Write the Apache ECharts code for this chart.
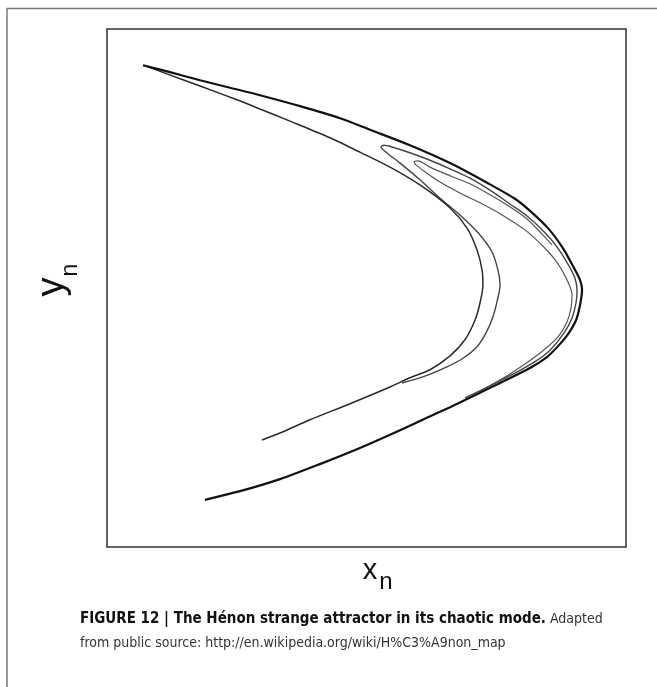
<!DOCTYPE html>
<html>
<head>
<meta charset="utf-8">
<script src="https://cdn.jsdelivr.net/npm/echarts@6/dist/echarts.min.js"></script>
<style>
html,body{margin:0;padding:0;background:#fff;}
#chart{width:657px;height:687px;}
</style>
</head>
<body>
<div id="chart"></div>
<script>
// Hénon attractor strands (x_n, y_n)
var outerX = [-1.292,-1.136,-0.962,-0.789,-0.616,-0.384,-0.153,0.020,0.251,0.483,0.714,0.858,0.945,1.049,1.136,1.199,1.234,1.246,1.234,1.211,1.165,1.107,1.043,0.945,0.772,0.656,0.483,0.309,0.136,-0.038,-0.269,-0.500,-0.731,-0.934];
var outerY = [0.387,0.375,0.361,0.348,0.335,0.316,0.295,0.275,0.248,0.217,0.180,0.155,0.134,0.104,0.069,0.035,0.014,-0.003,-0.030,-0.056,-0.080,-0.101,-0.120,-0.139,-0.165,-0.182,-0.207,-0.231,-0.255,-0.278,-0.306,-0.332,-0.353,-0.368];

var innerX = [-1.280,-1.153,-0.962,-0.749,-0.616,-0.442,-0.211,-0.038,0.136,0.309,0.483,0.581,0.639,0.668,0.673,0.656,0.627,0.569,0.483,0.367,0.251,0.136,-0.095,-0.327,-0.500,-0.604];
var innerY = [0.386,0.372,0.351,0.327,0.311,0.290,0.261,0.236,0.210,0.179,0.139,0.104,0.066,0.031,0.005,-0.026,-0.056,-0.090,-0.118,-0.142,-0.156,-0.172,-0.201,-0.229,-0.252,-0.264];

var foldAX = [0.569,0.714,0.858,0.974,1.061,1.142,1.188,1.211,1.217,1.205,1.171,1.107,1.032,0.928,0.829,0.714,0.598,0.483,0.367,0.251,0.147,0.101,0.084,0.113,0.194,0.309,0.425,0.540,0.645,0.725,0.760,0.772,0.754,0.731,0.691,0.639,0.558,0.465,0.338,0.205];
var foldAY = [-0.191,-0.170,-0.148,-0.128,-0.108,-0.078,-0.052,-0.026,-0.003,0.017,0.038,0.069,0.096,0.125,0.146,0.170,0.191,0.207,0.222,0.235,0.245,0.248,0.245,0.236,0.217,0.188,0.156,0.127,0.096,0.063,0.031,0.005,-0.024,-0.050,-0.078,-0.102,-0.122,-0.137,-0.153,-0.165];

var foldBX = [0.656,0.772,0.916,1.020,1.107,1.159,1.182,1.188,1.159,1.107,1.032,0.916,0.772,0.656,0.540,0.425,0.338,0.286,0.275,0.298,0.367,0.483,0.598,0.714,0.829,0.928,1.014,1.072];
var foldBY = [-0.179,-0.160,-0.132,-0.109,-0.085,-0.059,-0.035,-0.012,0.014,0.042,0.069,0.101,0.129,0.148,0.165,0.184,0.202,0.214,0.219,0.221,0.210,0.195,0.181,0.162,0.141,0.120,0.094,0.075];

var xLabel = ['x', 'n'];
var yLabel = ['y', 'n'];
var captionBold = 'FIGURE 12 | The Hénon strange attractor in its chaotic mode.';
var captionRest1 = ' Adapted';
var captionLine2 = 'from public source: http://en.wikipedia.org/wiki/H%C3%A9non_map';

function pairs(xs, ys) {
  var out = [];
  for (var i = 0; i < xs.length; i++) out.push([xs[i], ys[i]]);
  return out;
}

var chart = echarts.init(document.getElementById('chart'), null, {renderer: 'canvas'});

function strand(name, xs, ys, color, width) {
  return {
    name: name, type: 'line', data: pairs(xs, ys),
    showSymbol: false, symbol: 'none', smooth: 0.3, silent: true,
    lineStyle: {color: color, width: width}, z: 3
  };
}

var capFont = '"Liberation Sans Narrow","DejaVu Sans Condensed","Liberation Sans",Arial,sans-serif';
var lblFont = '"Liberation Sans",Arial,sans-serif';

chart.setOption({
  animation: false,
  backgroundColor: '#ffffff',
  grid: {left: 107, top: 29, width: 519, height: 518, show: true, borderColor: '#333', borderWidth: 1.5, backgroundColor: 'transparent'},
  xAxis: {type: 'value', min: -1.5, max: 1.5, show: false},
  yAxis: {type: 'value', min: -0.45, max: 0.45, show: false},
  series: [
    strand('foldB', foldBX, foldBY, '#555', 1.2),
    strand('foldA', foldAX, foldAY, '#444', 1.4),
    strand('inner', innerX, innerY, '#2a2a2a', 1.5),
    strand('outer', outerX, outerY, '#111', 2.2)
  ],
  graphic: [
    {type: 'rect', shape: {x: 7, y: 8.5, width: 700, height: 700}, style: {fill: 'none', stroke: '#7a7a7a', lineWidth: 1.5}, silent: true},
    {type: 'text', x: 53, y: 287, rotation: Math.PI / 2, style: {text: yLabel[0], font: '38px ' + lblFont, fill: '#111', align: 'center', verticalAlign: 'middle'}},
    {type: 'text', x: 71, y: 270, rotation: Math.PI / 2, style: {text: yLabel[1], font: '23px ' + lblFont, fill: '#111', align: 'center', verticalAlign: 'middle'}},
    {type: 'text', x: 370, y: 571, style: {text: xLabel[0], font: '29px ' + lblFont, fill: '#111', align: 'center', verticalAlign: 'middle'}},
    {type: 'text', x: 386, y: 582, style: {text: xLabel[1], font: '24px ' + lblFont, fill: '#111', align: 'center', verticalAlign: 'middle'}},
    {type: 'text', x: 80, y: 619, style: {
      text: '{b|' + captionBold + '}{r|' + captionRest1 + '}',
      verticalAlign: 'middle', align: 'left',
      rich: {
        b: {font: 'bold 15px ' + capFont, fill: '#111'},
        r: {font: '14px ' + capFont, fill: '#333'}
      }
    }},
    {type: 'text', x: 80, y: 643, style: {text: captionLine2, font: '14px ' + capFont, fill: '#333', align: 'left', verticalAlign: 'middle'}}
  ]
});
</script>
</body>
</html>
